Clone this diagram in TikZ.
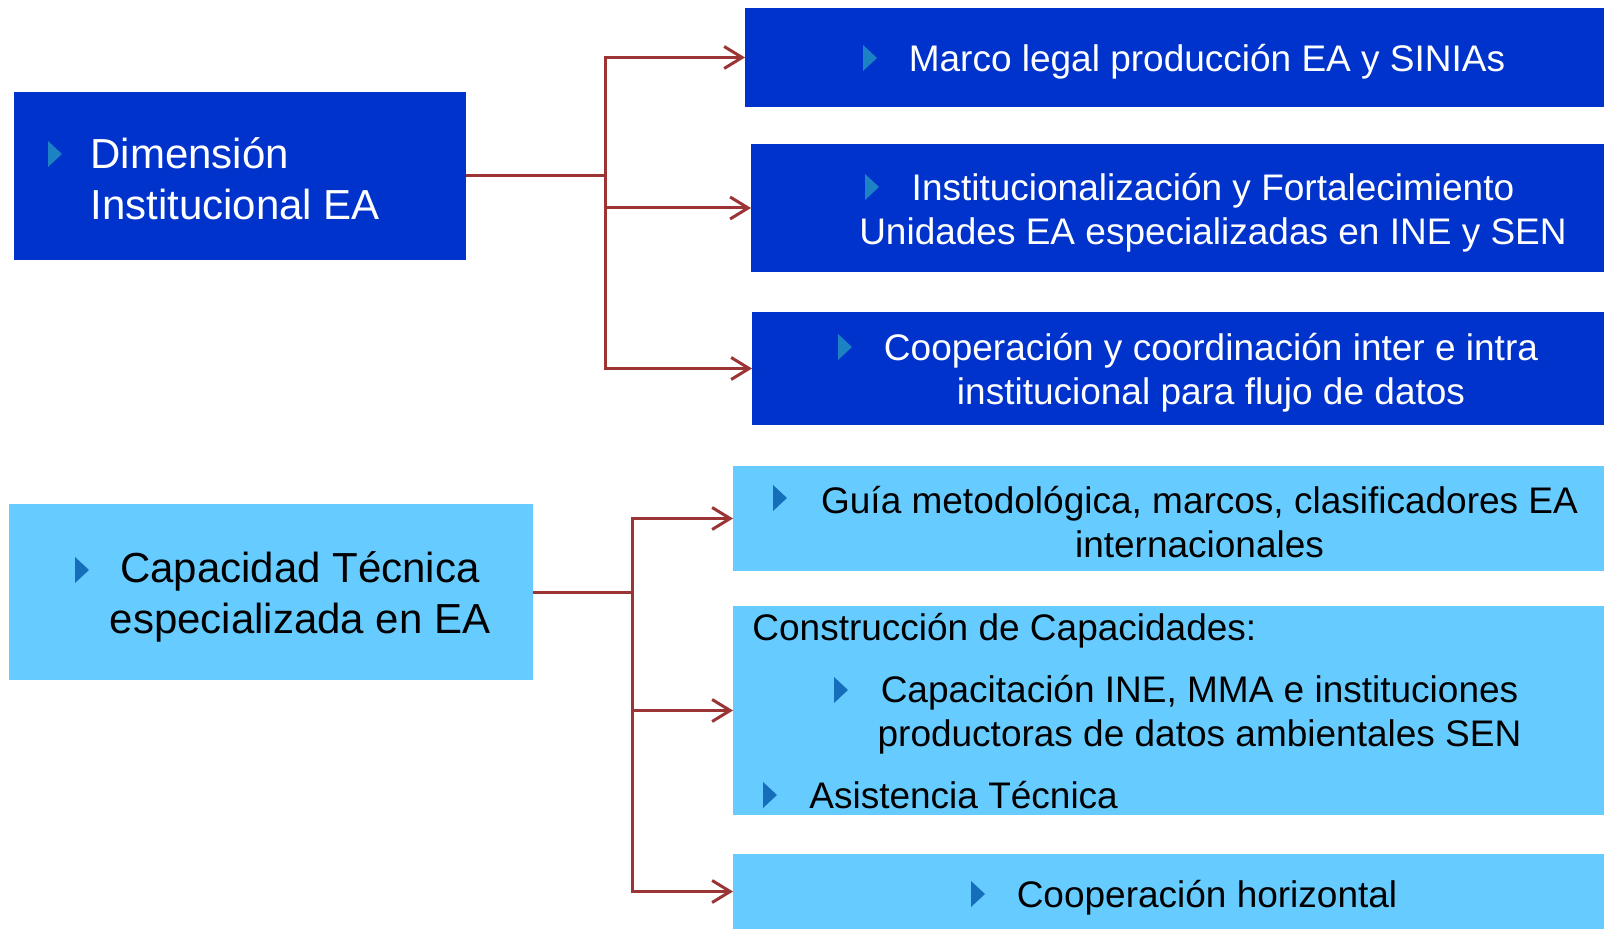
\documentclass[tikz,border=0pt]{standalone}
\usepackage{fontspec}
\setmainfont{Liberation Sans}
\usetikzlibrary{arrows.meta}
\definecolor{darkbox}{RGB}{0,51,204}
\definecolor{lightbox}{RGB}{102,204,255}
\definecolor{conncol}{RGB}{155,52,52}
\definecolor{buldark}{RGB}{28,130,195}
\definecolor{bullight}{RGB}{20,110,185}
\newcommand\tribul[3]{\fill[#3] (#1-7,#2-13) -- (#1+7,#2) -- (#1-7,#2+13) -- cycle;}
\tikzset{
  boxbase/.style={rectangle, inner sep=0pt, outer sep=0pt, anchor=north west},
  dbox/.style={boxbase, fill=darkbox},
  lbox/.style={boxbase, fill=lightbox},
  smalltxt/.style={inner sep=0pt, font=\fontsize{18.5}{22}\selectfont},
  bigtxt/.style={inner sep=0pt, font=\fontsize{21}{25.5}\selectfont},
  conn/.style={draw=conncol, line width=1.5pt},
  arr/.style={conn, -{Straight Barb[length=9pt,width=11pt,line width=1.5pt]}},
}
\begin{document}
\begin{tikzpicture}[x=0.5pt,y=-0.5pt]
\useasboundingbox (0,0) rectangle (1604,929);
% boxes
\node[dbox, minimum width=226pt, minimum height=84pt] (dim) at (14,92) {};
\node[dbox, minimum width=429.5pt, minimum height=49.5pt] (marco) at (745,8) {};
\node[dbox, minimum width=426.5pt, minimum height=64pt] (inst) at (751,144) {};
\node[dbox, minimum width=426pt, minimum height=56.5pt] (coop) at (752,312) {};
\node[lbox, minimum width=262pt, minimum height=88pt] (cap) at (9,504) {};
\node[lbox, minimum width=435.5pt, minimum height=52.5pt] (guia) at (733,466) {};
\node[lbox, minimum width=435.5pt, minimum height=104.5pt] (constr) at (733,606) {};
\node[lbox, minimum width=435.5pt, minimum height=37.5pt] (horiz) at (733,854) {};
% bullets
\tribul{55}{154}{buldark}
\tribul{870}{58}{buldark}
\tribul{872}{187}{buldark}
\tribul{845}{347}{buldark}
\tribul{82}{570}{bullight}
\tribul{780}{498}{bullight}
\tribul{841}{690}{bullight}
\tribul{770}{795}{bullight}
\tribul{978}{894}{bullight}
% texts
\node[bigtxt, text=white, align=left, anchor=west] (dimt) at (90,179) {Dimensión\\Institucional EA};
\node[smalltxt, text=white] (marcot) at (1207,62) {Marco legal producción EA y SINIAs};
\node[smalltxt, text=white, align=center] (instt) at (1213,213) {Institucionalización y Fortalecimiento\\Unidades EA especializadas en INE y SEN};
\node[smalltxt, text=white, align=center] (coopt) at (1211,373) {Cooperación y coordinación inter e intra\\institucional para flujo de datos};
\node[bigtxt, text=black, align=center] (capt) at (300,597) {Capacidad Técnica\\especializada en EA};
\node[smalltxt, text=black, align=center] (guiat) at (1199.5,522) {Guía metodológica, marcos, clasificadores EA\\internacionales};
\node[smalltxt, text=black, anchor=west] (constrt) at (752,631) {Construcción de Capacidades:};
\node[smalltxt, text=black, align=center] (capacit) at (1199.5,715) {Capacitación INE, MMA e instituciones\\productoras de datos ambientales SEN};
\node[smalltxt, text=black, anchor=west] (asist) at (809,795) {Asistencia Técnica};
\node[smalltxt, text=black] (horizt) at (1207,898) {Cooperación horizontal};
% connectors
\coordinate (t1) at (605,176);
\coordinate (t2) at (632,592);
\draw[conn] (dim.east) -- ([xshift=1pt]t1);
\draw[arr] (t1) |- (marco.west);
\draw[arr] (t1) |- (inst.west);
\draw[arr] (t1) |- (coop.west);
\draw[conn] (cap.east) -- ([xshift=1pt]t2);
\draw[arr] (t2) |- (guia.west);
\draw[arr] (t2) |- (constr.west);
\draw[arr] (t2) |- (horiz.west);
\end{tikzpicture}
\end{document}
